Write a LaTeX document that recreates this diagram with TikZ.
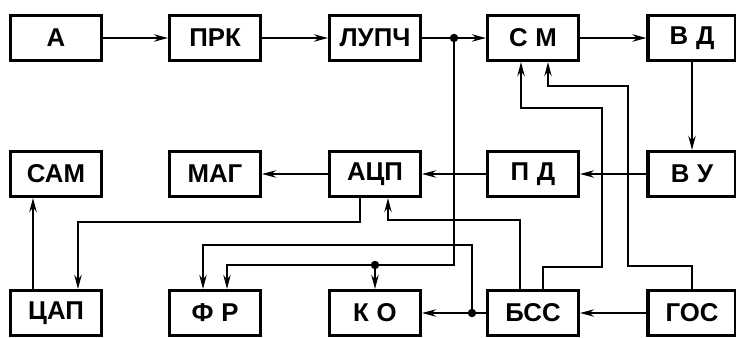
\documentclass[tikz,border=0pt]{standalone}
\usepackage{fontspec}
\setmainfont{Liberation Sans}
\usetikzlibrary{arrows.meta, calc}
\newcommand{\lz}{\hspace{0.3em}}

\begin{document}
\begin{tikzpicture}[x=0.03cm, y=-0.03cm,
    blok/.style={draw, line width=2.6pt, minimum width=2.73cm, minimum height=1.35cm,
      inner sep=0pt, font=\fontsize{22}{22}\selectfont\bfseries},
    rand/.style={blok, minimum width=2.64cm},
    pfeil/.style={-{Stealth[length=4.2mm, width=2.2mm]}, line width=1.8pt},
    punkt/.style={fill, radius=3.6pt}]
  \clip (0,0) rectangle (736,337);
  \useasboundingbox (0,0) rectangle (736,337);
  \foreach \nm/\x/\y/\lab in {%
    a/56/38/{А}, prk/215/38/{ПРК}, lupch/375/38/{ЛУПЧ}, sm/533/38/{С\lz М},
    sam/56/174/{САМ}, mag/215/174/{МАГ}, acp/375/174/{АЦП}, pd/533/174/{П\lz Д},
    cap/56/313/{ЦАП}, fr/215/313/{Ф\lz Р}, ko/375/313/{К\lz О}, bss/533/313/{БСС}}
    \node[blok] (\nm) at (\x,\y) {\lab};
  \foreach \nm/\y/\lab in {vd/38/{В\lz Д}, vu/174/{В\lz У}, gos/313/{ГОС}}
    \node[rand] (\nm) at (692,\y) {\lab};

  \coordinate (j1) at ($(lupch.east)!0.5!(sm.west)$);
  \coordinate (j2) at ($(ko.north)+(0,-24)$);
  \coordinate (j3) at ($(bss.west)+(-14,0)$);

  \draw[pfeil] (a) -- (prk);
  \draw[pfeil] (prk) -- (lupch);
  \draw[pfeil] (lupch) -- (sm);
  \draw[pfeil] (sm) -- (vd);
  \draw[pfeil] (vd) -- (vu);
  \draw[pfeil] (vu) -- (pd);
  \draw[pfeil] (pd) -- (acp);
  \draw[pfeil] (acp) -- (mag);
  \draw[pfeil] (gos) -- (bss);
  \draw[pfeil] (bss) -- (ko);
  \draw[pfeil] ($(cap.north)+(-23,0)$) -- ($(sam.south)+(-23,0)$);
  \draw[pfeil] ($(acp.south)+(-15,0)$) -- ++(0,24) -| ($(cap.north)+(22,0)$);
  \draw[pfeil] ($(bss.north)+(-13,0)$) |- ($(acp.south)+(13,22)$) -- ($(acp.south)+(13,0)$);
  \draw[pfeil] ($(bss.north)+(10,0)$) -- ++(0,-22) -| (602,108) -| ($(sm.south)+(-12,0)$);
  \draw[pfeil] (gos.north) -- ++(0,-23) -| (628,86) -| ($(sm.south)+(15,0)$);
  \draw[pfeil] (j1) |- (j2) -| ($(fr.north)+(12,0)$);
  \draw[pfeil] (j2) -- (ko.north);
  \draw[pfeil] (j3) -- ++(0,-68) -| ($(fr.north)+(-12,0)$);

  \foreach \p in {j1, j2, j3}
    \fill[punkt] (\p) circle;
\end{tikzpicture}
\end{document}
